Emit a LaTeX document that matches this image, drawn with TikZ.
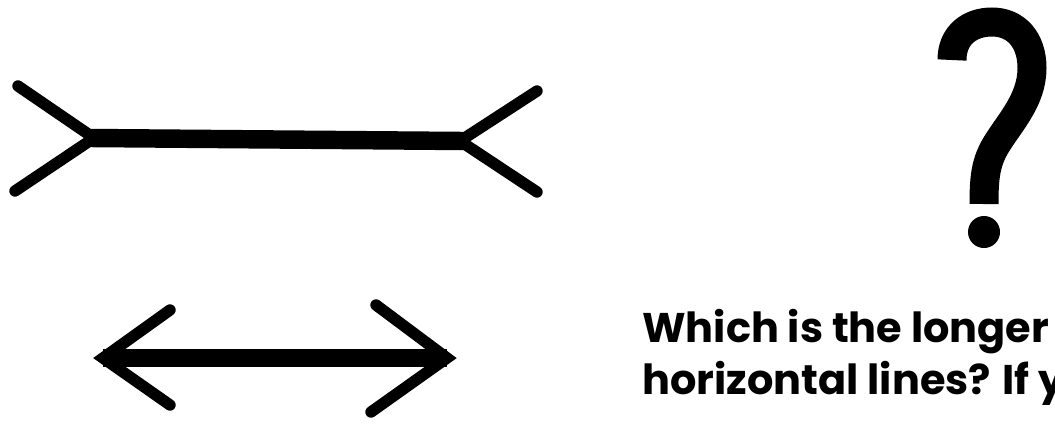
\documentclass[tikz,border=0pt]{standalone}
\usepackage{fontspec}
\setmainfont{Poppins}[BoldFont={* Bold}]
\begin{document}
\begin{tikzpicture}[x=0.02cm,y=-0.02cm,
  shaft/.style={line width=10.5pt,line cap=butt},
  fin/.style={line width=6.5pt,line cap=round,line join=round},
  tipfin/.style={line width=6.5pt,line cap=round,line join=miter,miter limit=10},
  caption/.style={anchor=base west,inner sep=0pt,font=\bfseries\fontsize{23.6}{29.5}\selectfont}]
\clip (0,0) rectangle (1055,433);
\fill[white] (0,0) rectangle (1055,433);
% top figure (outward fins)
\coordinate (tl) at (94,138);
\coordinate (tr) at (460,141);
\coordinate (tlu) at (18,86);
\coordinate (tld) at (15,191);
\coordinate (tru) at (537,91);
\coordinate (trd) at (537,192);
\draw[shaft] ([xshift=-2pt]tl) -- ([xshift=2pt]tr);
\draw[fin] (tlu) -- (tl) -- (tld);
\draw[fin] (tru) -- (tr) -- (trd);
% bottom figure (arrowheads)
\coordinate (bl) at (103,358);
\coordinate (br) at (447,358);
\coordinate (blu) at (170,310);
\coordinate (bld) at (170,405);
\coordinate (bru) at (376,305);
\coordinate (brd) at (371,412);
\draw[shaft] (bl) -- (br);
\draw[tipfin] (blu) -- (bl) -- (bld);
\draw[tipfin] (bru) -- (br) -- (brd);
% question mark
\draw[line width=16.5pt] (952,60) .. controls (952,35) and (970,22) .. (992,22)
  .. controls (1016,22) and (1032,40) .. (1032,68)
  .. controls (1032,100) and (1010,122) .. (996,145)
  .. controls (986,162) and (984,176) .. (984,204);
\fill (984,232) circle (16);
% caption
\node[caption] (l1) at (642,342) {Which is the longer};
\node[caption] (l2) at (642,394) {horizontal lines? If y};
\end{tikzpicture}
\end{document}
